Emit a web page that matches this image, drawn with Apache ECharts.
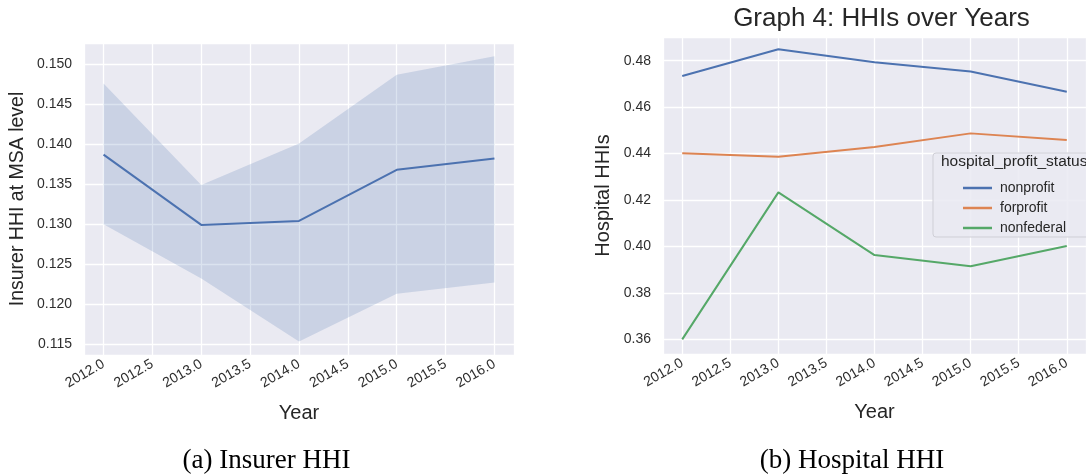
<!DOCTYPE html>
<html>
<head>
<meta charset="utf-8">
<script src="https://cdn.jsdelivr.net/npm/echarts@6/dist/echarts.min.js"></script>
<style>html,body{margin:0;padding:0;background:#fff;}#c{width:1086px;height:474px;}</style>
</head>
<body>
<div id="c"></div>
<script>
// ---- data ----
const years = [2012, 2013, 2014, 2015, 2016];
const insurerMean = [0.1387, 0.1299, 0.1304, 0.1368, 0.1382];
const insurerLow  = [0.1300, 0.1232, 0.1153, 0.1213, 0.1227];
const insurerHigh = [0.1476, 0.1349, 0.1401, 0.1487, 0.1510];
const seriesNames = ['nonprofit', 'forprofit', 'nonfederal'];
const nonprofit  = [0.4734, 0.4849, 0.4793, 0.4753, 0.4666];
const forprofit  = [0.4401, 0.4386, 0.4428, 0.4487, 0.4458];
const nonfederal = [0.3600, 0.4233, 0.3963, 0.3915, 0.4002];
const titleText = 'Graph 4: HHIs over Years';
const captionA = '(a) Insurer HHI';
const captionB = '(b) Hospital HHI';
const legendTitle = 'hospital_profit_status';

const colors = ['#4C72B0', '#DD8452', '#55A868'];
const txt = '#262626';
const sans = 'Liberation Sans, Arial, sans-serif';

function pair(xs, ys) { return xs.map((x, i) => [x, ys[i]]); }
function xFmt(v) { return Math.abs(v * 2 - Math.round(v * 2)) < 1e-6 ? v.toFixed(1) : ''; }
function yFmt(step, dec) { return v => Math.abs(v / step - Math.round(v / step)) < 1e-6 ? v.toFixed(dec) : ''; }

function xAxis(gi) {
  return {
    type: 'value', gridIndex: gi, min: 2011.8, max: 2016.2, splitNumber: 9,
    name: 'Year', nameLocation: 'middle', nameGap: 48,
    nameTextStyle: { fontSize: 20, color: txt, fontFamily: sans },
    axisLine: { show: false }, axisTick: { show: false },
    axisLabel: { rotate: 30, fontSize: 14, color: '#2e2e2e', fontFamily: sans, margin: 8, formatter: xFmt, showMinLabel: false, showMaxLabel: false },
    splitLine: { show: true, lineStyle: { color: '#ffffff', width: 1.3 } }
  };
}

const chart = echarts.init(document.getElementById('c'), null, { renderer: 'canvas' });
const option = {
  animation: false,
  backgroundColor: '#ffffff',
  grid: [
    { left: 84, top: 43, width: 430, height: 312, show: true, backgroundColor: '#EAEAF2', borderWidth: 0 },
    { left: 663, top: 37, width: 436, height: 317, show: true, backgroundColor: '#EAEAF2', borderWidth: 0 }
  ],
  xAxis: [xAxis(0), xAxis(1)],
  yAxis: [
    {
      type: 'value', gridIndex: 0, min: 0.11362, max: 0.15267, splitNumber: 8,
      name: 'Insurer HHI at MSA level', nameLocation: 'middle', nameGap: 56,
      nameTextStyle: { fontSize: 19.5, color: txt, fontFamily: sans },
      axisLine: { show: false }, axisTick: { show: false },
      axisLabel: { fontSize: 14, color: '#2e2e2e', fontFamily: sans, margin: 12, formatter: yFmt(0.005, 3), showMinLabel: false, showMaxLabel: false },
      splitLine: { show: true, lineStyle: { color: '#ffffff', width: 1.3 } }
    },
    {
      type: 'value', gridIndex: 1, min: 0.3537, max: 0.4902, splitNumber: 7,
      name: 'Hospital HHIs', nameLocation: 'middle', nameGap: 50,
      nameTextStyle: { fontSize: 20, color: txt, fontFamily: sans },
      axisLine: { show: false }, axisTick: { show: false },
      axisLabel: { fontSize: 14, color: '#2e2e2e', fontFamily: sans, margin: 12, formatter: yFmt(0.02, 2), showMinLabel: false, showMaxLabel: false },
      splitLine: { show: true, lineStyle: { color: '#ffffff', width: 1.3 } }
    }
  ],
  legend: {
    data: seriesNames, orient: 'vertical', left: 958, top: 175, itemGap: 4,
    itemWidth: 29, itemHeight: 2.5, icon: 'rect', z: 120,
    textStyle: { fontSize: 14, color: txt, fontFamily: sans, lineHeight: 16, padding: [0, 0, 0, 3] }
  },
  graphic: [
    { type: 'rect', z: 100, shape: { x: 933, y: 153, width: 170, height: 84, r: 3 }, style: { fill: 'rgba(234,234,242,0.85)', stroke: '#cfcfd6', lineWidth: 1 } },
    { type: 'text', z: 110, x: 941, y: 162, style: { text: legendTitle, font: '15.5px ' + sans, fill: txt, textAlign: 'left', textVerticalAlign: 'middle' } },
    { type: 'text', x: 881.5, y: 19, style: { text: titleText, font: '26px ' + sans, fill: txt, textAlign: 'center', textVerticalAlign: 'middle' } },
    { type: 'text', x: 266.5, y: 461, style: { text: captionA, font: '27px Liberation Serif, serif', fill: '#000', textAlign: 'center', textVerticalAlign: 'middle' } },
    { type: 'text', x: 852, y: 461, style: { text: captionB, font: '27px Liberation Serif, serif', fill: '#000', textAlign: 'center', textVerticalAlign: 'middle' } }
  ],
  series: [
    {
      type: 'custom', xAxisIndex: 0, yAxisIndex: 0, silent: true, z: 1,
      data: years.map((y, i) => [y, insurerLow[i], insurerHigh[i]]),
      encode: { x: 0, y: [1, 2] },
      renderItem: function (params, api) {
        if (params.dataIndex !== 0) return null;
        const pts = [];
        for (let i = 0; i < years.length; i++) pts.push(api.coord([years[i], insurerHigh[i]]));
        for (let i = years.length - 1; i >= 0; i--) pts.push(api.coord([years[i], insurerLow[i]]));
        return { type: 'polygon', shape: { points: pts }, style: { fill: 'rgba(76,114,176,0.2)' } };
      }
    },
    { type: 'line', name: 'insurer', xAxisIndex: 0, yAxisIndex: 0, data: pair(years, insurerMean), showSymbol: false, lineStyle: { color: colors[0], width: 2 }, itemStyle: { color: colors[0] }, z: 3 },
    { type: 'line', name: seriesNames[0], xAxisIndex: 1, yAxisIndex: 1, data: pair(years, nonprofit), showSymbol: false, lineStyle: { color: colors[0], width: 2 }, itemStyle: { color: colors[0] } },
    { type: 'line', name: seriesNames[1], xAxisIndex: 1, yAxisIndex: 1, data: pair(years, forprofit), showSymbol: false, lineStyle: { color: colors[1], width: 2 }, itemStyle: { color: colors[1] } },
    { type: 'line', name: seriesNames[2], xAxisIndex: 1, yAxisIndex: 1, data: pair(years, nonfederal), showSymbol: false, lineStyle: { color: colors[2], width: 2 }, itemStyle: { color: colors[2] } }
  ]
};
chart.setOption(option);
</script>
</body>
</html>
